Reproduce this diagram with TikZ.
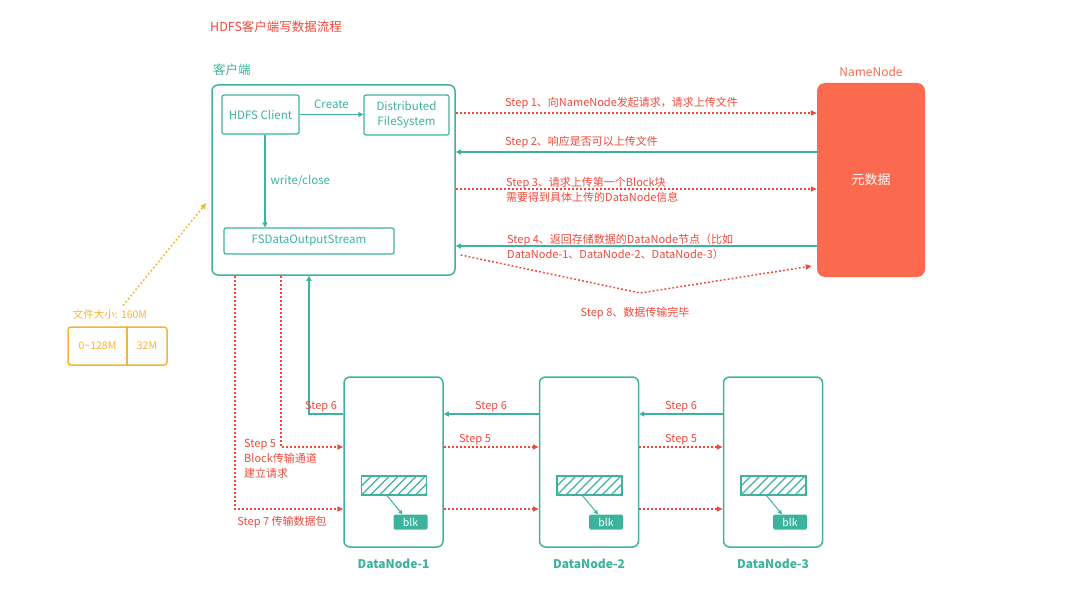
\documentclass[tikz,border=0pt]{standalone}
\usepackage{fontspec}
\setmainfont{Noto Sans CJK SC}
\usetikzlibrary{calc,positioning,arrows.meta}

\definecolor{qing}{HTML}{3DB39E}
\definecolor{hong}{HTML}{EC4A3C}
\definecolor{yuan}{HTML}{FB6A4F}
\definecolor{cheng}{HTML}{F6B435}

\begin{document}
\begin{tikzpicture}[x=1pt, y=-1pt,
  kuang/.style={draw=qing, line width=1.5pt, rounded corners=6pt},
  xiaokuang/.style={draw=qing, line width=1.2pt, rounded corners=2pt, text=qing, font=\fontsize{11.5}{15}\selectfont},
  hongzi/.style={text=hong, font=\fontsize{11}{15}\selectfont, inner sep=0pt},
  qingzi/.style={text=qing, font=\fontsize{11.5}{14}\selectfont, inner sep=0pt},
  qingxian/.style={draw=qing, line width=1.3pt, -{Triangle[length=5pt,width=5pt]}},
  hongxian/.style={draw=hong, line width=1.5pt, dash pattern=on 1.8pt off 2.2pt, -{Triangle[length=6pt,width=5pt]}},
]
\useasboundingbox (0,0) rectangle (1080,610);

% 定义各条水平连线的高度
\foreach \n/\y in {l1/113, l2/152, l3/189, l4/246, l8a/255, l8b/266, l6/414, l5/447, l7/509} {
    \coordinate (\n) at (0,\y);
}
\coordinate (s8) at (640,293);

% 标题
\node[text=hong, font=\fontsize{12.5}{15}\selectfont, anchor=west, inner sep=0pt] (title) at (210,27) {HDFS客户端写数据流程};

% 客户端
\node[kuang, minimum width=243pt, minimum height=190pt] (client) at (333.5,180) {};
\node[qingzi, font=\fontsize{12.5}{14}\selectfont, anchor=west] (clientlbl) at (213,70) {客户端};
\node[xiaokuang, minimum width=77pt, minimum height=39pt] (hdfs) at (260.5,114.5) {HDFS Client};
\node[xiaokuang, minimum width=85pt, minimum height=40pt, align=center] (dfs) at (406.5,115) {Distributed\\FileSystem};
\node[xiaokuang, minimum width=170pt, minimum height=26pt] (fsdos) at (309,241) {FSDataOutputStream};

\draw[qingxian] (hdfs.east) -- (hdfs.east -| dfs.west) node[midway, above=5pt, qingzi] {Create};
\draw[qingxian] ([xshift=4.5pt]hdfs.south) -- ([xshift=4.5pt]hdfs.south |- fsdos.north)
    node[midway, right=5pt, qingzi] {write/close};

% NameNode
\node[fill=yuan, rounded corners=8pt, minimum width=108pt, minimum height=194pt, text=white,
    font=\fontsize{13}{15}\selectfont] (namenode) at (871,180) {元数据};
\node[text=yuan, font=\fontsize{12}{14}\selectfont, inner sep=0pt] (nnlbl) at (871,72) {NameNode};

% Step 1 ~ Step 4
\draw[hongxian] (client.east |- l1) -- (namenode.west |- l1);
\node[hongzi, anchor=west] (st1) at (505,103) {Step 1、向NameNode发起请求，请求上传文件};
\draw[qingxian] (namenode.west |- l2) -- (client.east |- l2);
\node[hongzi, anchor=west] (st2) at (505,142) {Step 2、响应是否可以上传文件};
\draw[hongxian] (client.east |- l3) -- (namenode.west |- l3);
\node[hongzi, anchor=west, align=left] (st3) at (506,190) {Step 3、请求上传第一个Block块\\需要得到具体上传的DataNode信息};
\draw[qingxian] (namenode.west |- l4) -- (client.east |- l4);
\node[hongzi, anchor=west, align=left] (st4) at (507,247) {Step 4、返回存储数据的DataNode节点（比如\\DataNode-1、DataNode-2、DataNode-3）};

% Step 8
\draw[hongxian] ([xshift=5pt]client.east |- l8a) -- (s8) -- ([xshift=-5pt]namenode.west |- l8b);
\node[hongzi] (st8) at (635,313) {Step 8、数据传输完毕};

% 文件大小
\node[text=cheng, font=\fontsize{10.5}{12}\selectfont] (sizelbl) at (110,314) {文件大小: 160M};
\node[draw=cheng, line width=1.5pt, rounded corners=3pt, minimum width=99pt, minimum height=38pt] (sizebox) at (117.5,346) {};
\draw[draw=cheng, line width=1.5pt] ([xshift=9.5pt]sizebox.north) -- ([xshift=9.5pt]sizebox.south);
\node[text=cheng, font=\fontsize{10.5}{12}\selectfont] (part1) at (97.5,346) {0\textasciitilde128M};
\node[text=cheng, font=\fontsize{10.5}{12}\selectfont] (part2) at (147,346) {32M};
\draw[draw=cheng, line width=1.5pt, dash pattern=on 1.8pt off 2.2pt, -{Triangle[length=6pt,width=5pt]}]
    ([xshift=13pt]sizelbl.north) -- ([xshift=-5pt,yshift=-23pt]client.west);

% DataNode
\foreach \name/\cx/\txt in {dn1/393.5/DataNode-1, dn2/589/DataNode-2, dn3/773/DataNode-3} {
    \node[kuang, minimum width=99pt, minimum height=170pt] (\name) at (\cx,462) {};
    \node[text=qing, font=\bfseries\fontsize{12}{14}\selectfont, inner sep=0pt, below=11pt of \name] (\name-lbl) {\txt};
    \node[draw=qing, line width=1.2pt, minimum width=65pt, minimum height=19pt, inner sep=0pt] (\name-h) at (\cx+0.5,485.5) {};
    \begin{scope}
        \clip (\name-h.south west) rectangle (\name-h.north east);
        \foreach \k in {0,...,9} {
            \draw[qing, line width=1.2pt] ($(\name-h.south west)+(\k*9-18,0)$) -- ++(19,-19);
        }
    \end{scope}
    \node[fill=qing, text=white, rounded corners=1.5pt, minimum width=34pt, minimum height=15pt, inner sep=0pt,
        font=\fontsize{10.5}{12}\selectfont] (\name-b) at (\cx+17,522) {blk};
    \draw[draw=qing, line width=1pt, -{Triangle[length=4pt,width=4pt]}] ([xshift=-7pt]\name-h.south) -- ([xshift=-8pt]\name-b.north);
}

% Step 6
\draw[qingxian] (dn3.west |- l6) -- (dn2.east |- l6);
\draw[qingxian] (dn2.west |- l6) -- (dn1.east |- l6);
\draw[qingxian] (dn1.west |- l6) -| ([xshift=-24.5pt]client.south);
\node[hongzi] (st6a) at (681,407) {Step 6};
\node[hongzi] (st6b) at (491,407) {Step 6};
\node[hongzi] (st6c) at (321,407) {Step 6};

% Step 5
\draw[hongxian] ([xshift=-52.5pt]client.south) |- (dn1.west |- l5);
\draw[hongxian] (dn1.east |- l5) -- (dn2.west |- l5);
\draw[hongxian] (dn2.east |- l5) -- (dn3.west |- l5);
\node[hongzi] (st5a) at (475,440) {Step 5};
\node[hongzi] (st5b) at (681,440) {Step 5};
\node[hongzi, anchor=west, align=left] (st5c) at (244,458.5) {Step 5\\Block传输通道\\建立请求};

% Step 7
\draw[hongxian] ([xshift=-98.5pt]client.south) |- (dn1.west |- l7);
\draw[hongxian] (dn1.east |- l7) -- (dn2.west |- l7);
\draw[hongxian] (dn2.east |- l7) -- (dn3.west |- l7);
\node[hongzi] (st7) at (282,522) {Step 7 传输数据包};

\end{tikzpicture}
\end{document}
